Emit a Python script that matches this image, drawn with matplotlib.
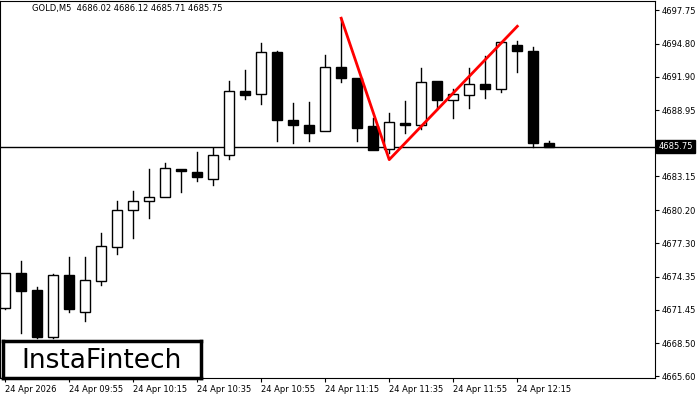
import matplotlib
matplotlib.use("Agg")
import matplotlib.pyplot as plt
from matplotlib.patches import Rectangle

opens = [4671.57, 4674.68, 4673.17, 4669.09, 4674.50, 4671.22, 4673.97, 4676.99, 4680.18, 4680.98,
         4681.33, 4683.82, 4683.55, 4682.93, 4685.06, 4690.65, 4690.39, 4694.11, 4688.08, 4687.63,
         4687.10, 4692.78, 4691.80, 4687.55, 4685.59, 4687.81, 4687.63, 4691.54, 4689.85, 4690.30,
         4691.27, 4690.83, 4694.73, 4694.20, 4686.04]
highs = [4674.68, 4675.75, 4673.44, 4674.59, 4676.10, 4676.10, 4678.14, 4680.98, 4681.87, 4683.82,
         4684.35, 4683.82, 4685.33, 4685.60, 4691.54, 4692.51, 4694.82, 4694.20, 4689.59, 4689.68,
         4693.85, 4697.04, 4691.80, 4688.26, 4688.70, 4689.76, 4692.69, 4691.54, 4690.83, 4692.69,
         4693.76, 4694.91, 4695.00, 4694.47, 4686.22]
lows = [4671.49, 4669.44, 4669.00, 4669.00, 4671.22, 4670.42, 4673.61, 4676.37, 4677.70, 4679.47,
        4681.33, 4681.78, 4682.75, 4682.40, 4684.70, 4689.94, 4689.50, 4686.22, 4686.04, 4686.22,
        4687.10, 4691.45, 4686.22, 4685.50, 4685.24, 4686.92, 4687.28, 4689.05, 4688.26, 4689.14,
        4690.03, 4690.56, 4692.34, 4685.77, 4685.77]
closes = [4674.68, 4673.08, 4669.09, 4674.50, 4671.49, 4674.06, 4677.08, 4680.18, 4680.98, 4681.33,
          4683.91, 4683.64, 4683.11, 4685.06, 4690.65, 4690.30, 4694.11, 4688.08, 4687.63, 4686.92,
          4692.78, 4691.80, 4687.37, 4685.50, 4687.90, 4687.63, 4691.45, 4689.85, 4690.39, 4691.27,
          4690.83, 4694.91, 4694.20, 4686.04, 4685.77]

pattern_idx = [21, 24, 32]
pattern_px = [4697.04, 4684.62, 4696.33]
last_price = 4685.75

price_ticks = [4697.75, 4694.80, 4691.90, 4688.95, 4683.15, 4680.20, 4677.30,
               4674.35, 4671.45, 4668.50, 4665.60]
time_idx = [0, 4, 8, 12, 16, 20, 24, 28, 32]
time_labels = ["24 Apr 2026", "24 Apr 09:55", "24 Apr 10:15", "24 Apr 10:35", "24 Apr 10:55",
               "24 Apr 11:15", "24 Apr 11:35", "24 Apr 11:55", "24 Apr 12:15"]

fig = plt.figure(figsize=(7, 4), dpi=100)
ax = fig.add_axes([0.0, 0.055, 655 / 700, 0.9425])

w = 0.62
for i, (o, h, l, c) in enumerate(zip(opens, highs, lows, closes)):
    lo, hi = min(o, c), max(o, c)
    ax.plot([i, i], [hi, h], color="black", lw=1, zorder=2)
    ax.plot([i, i], [l, lo], color="black", lw=1, zorder=2)
    face = "white" if c >= o else "black"
    ax.add_patch(Rectangle((i - w / 2, lo), w, max(hi - lo, 0.12), facecolor=face,
                           edgecolor="black", lw=1, zorder=3))

ax.axhline(last_price, color="black", lw=1, zorder=1)
ax.plot(pattern_idx, pattern_px, color="red", lw=2, zorder=4)

ax.set_xlim(-0.31, 40.6)
ax.set_ylim(4665.45, 4698.55)
ax.yaxis.tick_right()
ax.set_yticks(price_ticks)
ax.set_yticklabels([f"{p:.2f}" for p in price_ticks], fontsize=6)
ax.set_xticks(time_idx)
ax.set_xticklabels(time_labels, fontsize=6, ha="left")
ax.tick_params(axis="both", length=3, pad=2)
for s in ax.spines.values():
    s.set_color("black")

ax.text(1.005, (last_price - 4665.45) / (4698.55 - 4665.45), f"{last_price:.2f}",
        transform=ax.transAxes, fontsize=6, color="white", va="center", ha="left",
        bbox=dict(facecolor="black", edgecolor="black", pad=1.5))

fig.text(0.045, 0.978, "GOLD,M5  4686.02 4686.12 4685.71 4685.75", fontsize=6, va="center")

box_ax = fig.add_axes([3 / 700, 22 / 400, 198 / 700, 37 / 400])
box_ax.set_xticks([])
box_ax.set_yticks([])
for s in box_ax.spines.values():
    s.set_linewidth(2.5)
box_ax.text(0.5, 0.45, "InstaFintech", fontsize=19, ha="center", va="center",
            transform=box_ax.transAxes)

fig.savefig("out.png", dpi=100)
